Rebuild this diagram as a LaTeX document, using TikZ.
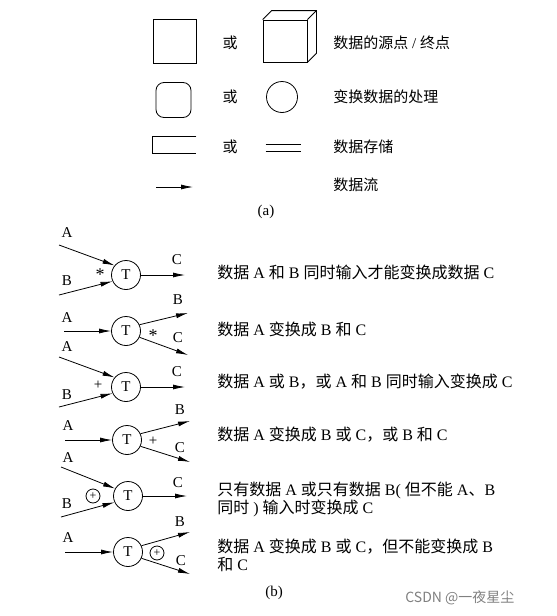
\documentclass[tikz,border=0pt]{standalone}
\usepackage{fontspec}
\setmainfont{Liberation Serif}
\newfontfamily\cjk{Noto Sans CJK SC}
\usetikzlibrary{arrows.meta}
\newcommand\zh[1]{{\cjk #1}}
\begin{document}
\begin{tikzpicture}[x=1pt,y=-1pt, line width=0.8pt,
  flow/.style={-{Latex[length=12pt,width=5pt]}},
  proc/.style={circle, draw, minimum size=29pt, inner sep=0pt, font=\fontsize{15}{18}\selectfont},
  lbl/.style={font=\fontsize{15}{18}\selectfont, inner sep=0pt},
  desc/.style={anchor=west, font=\fontsize{15}{18}\selectfont, inner sep=0pt, align=left},
  descb/.style={desc, font=\fontsize{16}{18}\selectfont},
  cplus/.style={circle, draw, minimum size=14pt, inner sep=0pt, font=\fontsize{12}{12}\selectfont},
  ]
\useasboundingbox (0,0) rectangle (557,616);
% ---------- part (a)
\node[draw, minimum width=43pt, minimum height=44pt, inner sep=0pt] (sq) at (174.5,41) {};
\node[lbl] (or1) at (230,43) {\zh{或}};
\node[draw, minimum width=44pt, minimum height=42pt, inner sep=0pt] (cube) at (285,41) {};
\draw (cube.north west) -- ++(9,-9) -| ([shift={(9,-9)}]cube.south east) -- (cube.south east);
\draw (cube.north east) -- ++(9,-9);
\node[desc] (d1) at (333,43) {\zh{数据的源点} / \zh{终点}};

\node[draw, rounded corners=8pt, minimum size=35pt, inner sep=0pt] (rsq) at (173.5,100) {};
\node[lbl] (or2) at (230,97) {\zh{或}};
\node[draw, circle, minimum size=31pt, inner sep=0pt] (cir) at (282,97) {};
\node[desc] (d2) at (333,97) {\zh{变换数据的处理}};

\node[minimum width=43pt, minimum height=16pt, inner sep=0pt] (store) at (174.5,145) {};
\draw (store.north east) -- (store.north west) -- (store.south west) -- (store.south east);
\node[lbl] (or3) at (230,147) {\zh{或}};
\node[minimum width=35pt, minimum height=6pt, inner sep=0pt] (dl) at (283.5,148) {};
\draw (dl.north west) -- (dl.north east);
\draw (dl.south west) -- (dl.south east);
\node[desc] (d3) at (333,147) {\zh{数据存储}};

\coordinate (f0) at (156,187);
\coordinate (f1) at (193,187);
\draw[flow] (f0) -- (f1);
\node[desc] (d4) at (333,185) {\zh{数据流}};
\node[lbl] (capa) at (266,212) {(a)};

% ---------- part (b)
% row 1
\node[proc] (t1) at (126,275) {T};
\coordinate (a1) at (59,245); \coordinate (b1) at (59,295); \coordinate (c1) at (185,275);
\draw[flow] (a1) -- (t1.140);
\draw[flow] (b1) -- (t1.205);
\draw[flow] (t1) -- (c1);
\node[lbl] (la1) at (67,233) {A};
\node[lbl] (lb1) at (67,281) {B};
\node[lbl] (lc1) at (177,260) {C};
\node[lbl, font=\fontsize{18}{18}\selectfont] (s1) at (100,275) {*};
\node[descb] (e1) at (217,272) {\zh{数据} A \zh{和} B \zh{同时输入才能变换成数据} C};
% row 2
\node[proc] (t2) at (126,331) {T};
\coordinate (a2) at (64,331); \coordinate (b2) at (188,313); \coordinate (c2) at (188,355);
\draw[flow] (a2) -- (t2);
\draw[flow] (t2.25) -- (b2);
\draw[flow] (t2.-25) -- (c2);
\node[lbl] (la2) at (67,318) {A};
\node[lbl] (lb2) at (178,300) {B};
\node[lbl] (lc2) at (178,338) {C};
\node[lbl, font=\fontsize{18}{18}\selectfont] (s2) at (153,336) {*};
\node[descb] (e2) at (217,329) {\zh{数据} A \zh{变换成} B \zh{和} C};
% row 3
\node[proc] (t3) at (126,387) {T};
\coordinate (a3) at (59,357); \coordinate (b3) at (59,407); \coordinate (c3) at (185,387);
\draw[flow] (a3) -- (t3.140);
\draw[flow] (b3) -- (t3.205);
\draw[flow] (t3) -- (c3);
\node[lbl] (la3) at (67,347) {A};
\node[lbl] (lb3) at (67,395) {B};
\node[lbl] (lc3) at (177,372) {C};
\node[lbl] (s3) at (98,385) {+};
\node[descb] (e3) at (217,382) {\zh{数据} A \zh{或} B\zh{，或} A \zh{和} B \zh{同时输入变换成} C};
% row 4
\node[proc] (t4) at (127,440) {T};
\coordinate (a4) at (65,440); \coordinate (b4) at (190,421); \coordinate (c4) at (190,462);
\draw[flow] (a4) -- (t4);
\draw[flow] (t4.25) -- (b4);
\draw[flow] (t4.-25) -- (c4);
\node[lbl] (la4) at (68,426) {A};
\node[lbl] (lb4) at (180,410) {B};
\node[lbl] (lc4) at (180,448) {C};
\node[lbl] (s4) at (153,441) {+};
\node[descb] (e4) at (217,435) {\zh{数据} A \zh{变换成} B \zh{或} C\zh{，或} B \zh{和} C};
% row 5
\node[proc] (t5) at (128,496) {T};
\coordinate (a5) at (61,467); \coordinate (b5) at (61,517); \coordinate (c5) at (187,496);
\draw[flow] (a5) -- (t5.150);
\draw[flow] (b5) -- (t5.205);
\draw[flow] (t5) -- (c5);
\node[lbl] (la5) at (68,458) {A};
\node[lbl] (lb5) at (67,504) {B};
\node[lbl] (lc5) at (178,483) {C};
\node[cplus] (s5) at (93,496) {+};
\node[descb] (e5) at (217,499) {\zh{只有数据} A \zh{或只有数据} B( \zh{但不能} A\zh{、}B\\\zh{同时} ) \zh{输入时变换成} C};
% row 6
\node[proc] (t6) at (128,552) {T};
\coordinate (a6) at (65,552); \coordinate (b6) at (190,532); \coordinate (c6) at (190,574);
\draw[flow] (a6) -- (t6);
\draw[flow] (t6.25) -- (b6);
\draw[flow] (t6.-25) -- (c6);
\node[lbl] (la6) at (68,538) {A};
\node[lbl] (lb6) at (180,522) {B};
\node[lbl] (lc6) at (181,561) {C};
\node[cplus] (s6) at (157,553) {+};
\node[descb] (e6) at (217,555) {\zh{数据} A \zh{变换成} B \zh{或} C\zh{，但不能变换成} B\\\zh{和} C};
\node[lbl] (capb) at (274,593) {(b)};
\node[anchor=west, inner sep=0pt, text=gray, font=\cjk\fontsize{14}{16}\selectfont] (wm) at (405,598) {CSDN @一夜星尘};
\end{tikzpicture}
\end{document}
